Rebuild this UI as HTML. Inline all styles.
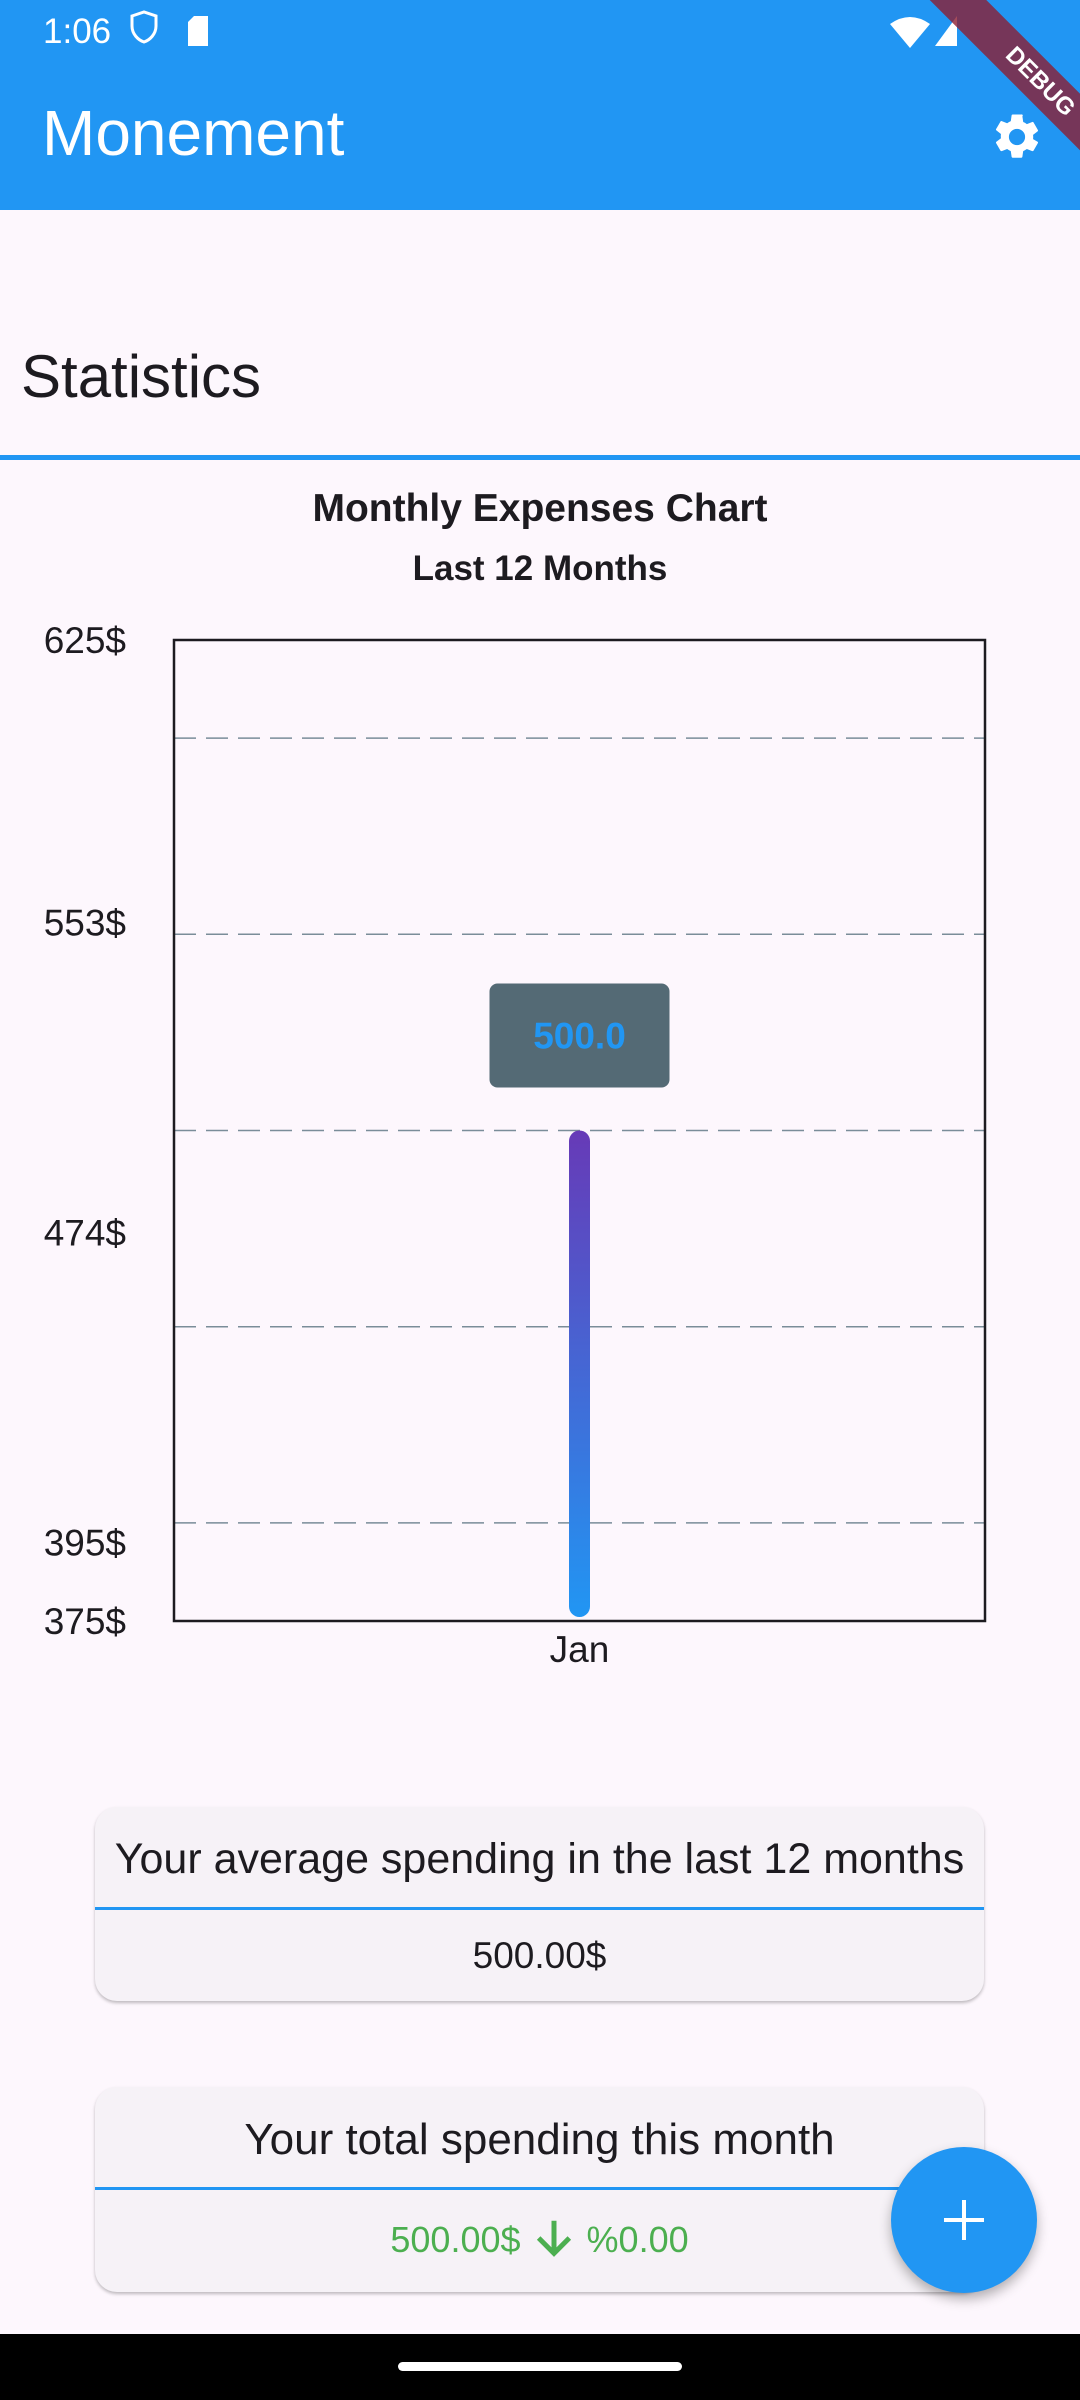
<!DOCTYPE html>
<html><head><meta charset="utf-8">
<style>
*{margin:0;padding:0;box-sizing:border-box}
body{width:1080px;height:2400px;background:#fdf7fd;font-family:"Liberation Sans",sans-serif;position:relative;overflow:hidden;color:#1d1b20}
.abs{position:absolute}
.card{position:absolute;left:95px;width:889px;background:#f6f2f7;border-radius:22px;box-shadow:0 2px 3px rgba(0,0,0,0.25);overflow:hidden}
.card .hd{text-align:center;color:#1d1b20;white-space:nowrap}
.card .dv{height:3px;background:#2196f3}
.card .vl{text-align:center;font-size:36px}
</style></head><body>
<div class="abs" style="left:0;top:0;width:1080px;height:210px;background:#2196f3"></div>
<div class="abs" style="left:43px;top:12px;font-size:35px;color:#fff">1:06</div>
<svg class="abs" style="left:0;top:0" width="1080" height="60">
<path d="M132 16 l12 -4 l12 4 v10 c0 8 -6 14 -12 16 c-6 -2 -12 -8 -12 -16z" fill="none" stroke="#fff" stroke-width="3"/>
<path d="M194 16 h14 v30 h-20 v-24z" fill="#fff"/>
<path d="M890 24 q20 -14 40 0 l-20 24z" fill="#fff"/>
<path d="M935 46 l22 -30 v30z" fill="#fff"/>
</svg>
<div class="abs" style="left:42px;top:96px;font-size:64px;color:#fff">Monement</div>
<svg class="abs" style="left:990px;top:110px" width="54" height="54" viewBox="0 0 24 24"><path fill="#fff" d="M19.14 12.94c.04-.3.06-.61.06-.94s-.02-.64-.07-.94l2.030-1.58a.49.49 0 0 0 .12-.61l-1.92-3.32a.49.49 0 0 0-.59-.22l-2.39.96a7 7 0 0 0-1.620-.94l-.36-2.54A.48.48 0 0 0 13.920 2h-3.84a.48.48 0 0 0-.48.41l-.36 2.54c-.59.24-1.13.57-1.62.94l-2.39-.96a.48.48 0 0 0-.59.22L2.72 8.47a.47.47 0 0 0 .12.61l2.03 1.58c-.05.3-.07.62-.07.94s.02.64.07.94l-2.03 1.58a.49.49 0 0 0-.12.61l1.92 3.32c.12.22.37.29.59.22l2.39-.96c.5.38 1.03.7 1.62.94l.36 2.54c.05.24.24.41.48.41h3.84c.24 0 .44-.17.47-.41l.36-2.54c.59-.24 1.13-.56 1.62-.94l2.39.96c.22.08.47 0 .59-.22l1.92-3.32a.47.47 0 0 0-.12-.61zM12 15.6A3.6 3.6 0 1 1 12 8.4a3.6 3.6 0 0 1 0 7.2z"/></svg>
<div class="abs" style="left:890px;top:62px;width:300px;height:40px;background:rgba(140,30,50,0.8);transform:rotate(45deg);color:#fff;font-weight:bold;font-size:24px;text-align:center;line-height:40px">DEBUG</div>
<div class="abs" style="left:21px;top:342px;font-size:60px">Statistics</div>
<div class="abs" style="left:0;top:455px;width:1080px;height:5px;background:#2196f3"></div>
<div class="abs" style="left:0;width:1080px;top:487px;text-align:center;font-size:39px;font-weight:bold">Monthly Expenses Chart</div>
<div class="abs" style="left:0;width:1080px;top:549px;text-align:center;font-size:35px;font-weight:bold">Last 12 Months</div>
<svg id="chart" class="abs" style="left:0;top:0" width="1080" height="1700"></svg>
<script>
const categories=["Jan"];
const values=[500];
const yTicks=[625,553,474,395,375];
const gridValues=[600,550,500,450,400];
const yMin=375,yMax=625;
const L=174,R=985,T=640,B=1621;
const y=v=>B-(v-yMin)/(yMax-yMin)*(B-T);
const x=i=>L+(R-L)*(i+0.5)/categories.length;
const svg=document.getElementById('chart');
const NS='http://www.w3.org/2000/svg';
function mk(t,a){const e=document.createElementNS(NS,t);for(const k in a)e.setAttribute(k,a[k]);svg.appendChild(e);return e;}
const defs=mk('defs',{});
defs.innerHTML='<linearGradient id="bg" x1="0" y1="1" x2="0" y2="0"><stop offset="0" stop-color="#2196f3"/><stop offset="1" stop-color="#673ab7"/></linearGradient>';
gridValues.forEach(v=>{const g=mk('line',{x1:L,x2:R,y1:y(v),y2:y(v),stroke:'#7a8d99','stroke-width':1.5,'stroke-dasharray':'22 10'});

});
const box=mk('rect',{x:L,y:T,width:R-L,height:B-T,fill:'none',stroke:'#1d1b20','stroke-width':2.5});


yTicks.forEach(v=>{const t=mk('text',{x:126,y:y(v)+13,'text-anchor':'end','font-size':37,fill:'#1d1b20','font-family':'Liberation Sans, sans-serif'});t.textContent=v+'$';

});
categories.forEach((c,i)=>{
const cx=x(i),w=21;
const b=mk('rect',{x:cx-w/2,y:y(values[i]),width:w,height:B-4-y(values[i]),rx:w/2,fill:'url(#bg)'});


const tt=mk('rect',{x:cx-90,y:y(values[i])-147,width:180,height:104,rx:8,fill:'#546a75'});


const tv=mk('text',{x:cx,y:y(values[i])-82,'text-anchor':'middle','font-size':37,'font-weight':'bold',fill:'#2196f3','font-family':'Liberation Sans, sans-serif'});tv.textContent=values[i].toFixed(1);


const xl=mk('text',{x:cx,y:1662,'text-anchor':'middle','font-size':37,fill:'#1d1b20','font-family':'Liberation Sans, sans-serif'});xl.textContent=c;


});
</script>
<div class="card" style="top:1807px;height:194px">
<div class="hd" style="height:100px;line-height:104px;font-size:43px">Your average spending in the last 12 months</div>
<div class="dv"></div>
<div class="vl" style="line-height:92px;font-size:37px">500.00$</div>
</div>
<div class="card" style="top:2087px;height:205px">
<div class="hd" style="height:100px;line-height:106px;font-size:44px">Your total spending this month</div>
<div class="dv"></div>
<div class="vl" style="line-height:100px;color:#4caf50">500.00$ <svg width="46" height="46" viewBox="0 0 24 24" style="vertical-align:-9px"><path d="M12 3v17M4 12l8 8 8-8" stroke="#4caf50" stroke-width="2.6" fill="none"/></svg> %0.00</div>
</div>
<div class="abs" style="left:891px;top:2147px;width:146px;height:146px;border-radius:50%;background:#2196f3;box-shadow:0 6px 12px rgba(0,0,0,0.3)">
<div class="abs" style="left:53px;top:71px;width:40px;height:4px;background:#fff"></div>
<div class="abs" style="left:71px;top:53px;width:4px;height:40px;background:#fff"></div>
</div>
<div class="abs" style="left:0;top:2334px;width:1080px;height:66px;background:#000"></div>
<div class="abs" style="left:398px;top:2362px;width:284px;height:9px;border-radius:5px;background:#fff"></div>
</body></html>
